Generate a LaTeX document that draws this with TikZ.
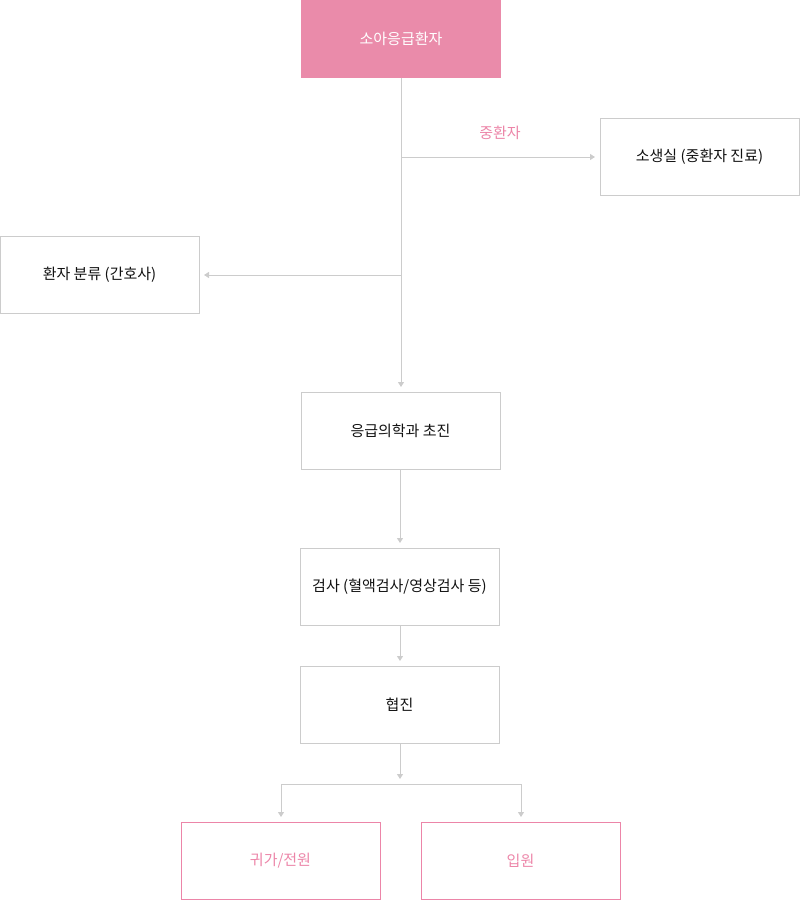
\documentclass[tikz,border=0pt]{standalone}
\usepackage{fontspec}
\setmainfont{Noto Sans CJK KR}
\usetikzlibrary{arrows.meta}
\definecolor{pinkfill}{HTML}{EA8BAA}
\definecolor{pinkline}{HTML}{EC85A8}
\definecolor{grayline}{HTML}{CCCCCC}
\definecolor{txt}{HTML}{111111}
\tikzset{
  box/.style={draw=grayline, line width=1pt, minimum width=199pt, minimum height=77pt, inner sep=0pt, text=txt, font=\fontsize{15}{17}\selectfont},
  topbox/.style={fill=pinkfill, draw=none, minimum width=200pt, minimum height=78pt, inner sep=0pt, text=white, font=\fontsize{15}{17}\selectfont},
  endbox/.style={box, draw=pinkline, text=pinkline},
  conn/.style={draw=grayline, line width=1pt},
  arr/.style={conn, -{Triangle[length=5pt,width=6pt]}},
  lbl/.style={text=pinkline, font=\fontsize{15}{17}\selectfont, inner sep=0pt}
}
\begin{document}
\begin{tikzpicture}[x=1pt,y=-1pt]
\useasboundingbox (0,0) rectangle (800,900);
\node[topbox] (top) at (401,38.5) {\raisebox{-1pt}{소아응급환자}};
\node[box] (icu) at (699.5,157) {소생실 (중환자 진료)};
\node[box] (triage) at (99.5,275) {환자 분류 (간호사)};
\node[box] (first) at (400.5,431) {응급의학과 초진};
\node[box] (test) at (399.5,587) {검사 (혈액검사/영상검사 등)};
\node[box] (consult) at (399.5,705) {협진};
\node[endbox] (home) at (280.5,861) {귀가/전원};
\node[endbox] (admit) at (520.5,861) {입원};
\coordinate (b1) at (401,157);
\coordinate (b2) at (401,275);
\coordinate (icuend) at (595,157);
\coordinate (triend) at (204,275);
\coordinate (firstend) at (401,387);
\coordinate (testend) at (400,543);
\coordinate (consend) at (400,661);
\coordinate (splitend) at (400,779);
\coordinate (sl) at (281,784);
\coordinate (sr) at (521,784);
\coordinate (homeend) at (281,817);
\coordinate (admitend) at (521,817);
\draw[arr] (top.south -| b1) -- (firstend);
\draw[arr] (b1) -- (icuend);
\draw[arr] (b2) -- (triend);
\node[lbl] (critlbl) at (500,133) {중환자};
\draw[arr] (first.south -| testend) -- (testend);
\draw[arr] (test.south -| consend) -- (consend);
\draw[arr] (consult.south -| splitend) -- (splitend);
\draw[conn] (sl) -- (sr);
\draw[arr] (sl) -- (homeend);
\draw[arr] (sr) -- (admitend);
\end{tikzpicture}
\end{document}
